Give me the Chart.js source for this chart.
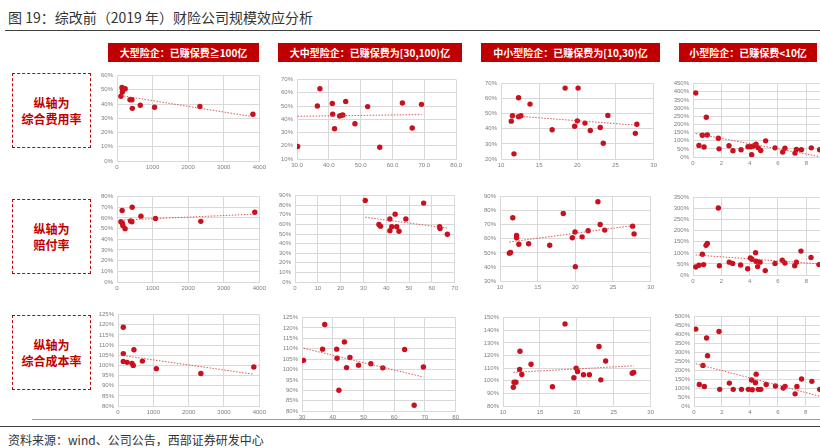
<!DOCTYPE html>
<html>
<head>
<meta charset="utf-8">
<script src="https://cdn.jsdelivr.net/npm/chart.js@4.4.1/dist/chart.umd.min.js"></script>
<style>
  html, body { margin: 0; padding: 0; background: #fff; }
  body { width: 820px; height: 448px; position: relative; overflow: hidden;
         font-family: "Noto Sans CJK SC", "Noto Sans", sans-serif; }
  .title { position: absolute; left: 8px; top: 7px; font-size: 14px; color: #333; white-space: nowrap; }
  .rule { position: absolute; left: 5px; right: 0; top: 30px; height: 1px; background: #404040; }
  .rule2 { position: absolute; left: 32px; right: 0; top: 419px; height: 1px; background: #a0a0a0; }
  .rule3 { position: absolute; left: 0; right: 0; top: 426px; height: 1px; background: #404040; }
  .source { position: absolute; left: 8px; top: 431px; font-size: 12px; color: #333; white-space: nowrap; }
  .head { position: absolute; top: 43px; height: 19px; background: #C00000; color: #fff;
          font-size: 10px; font-weight: bold; line-height: 19px; text-align: center; white-space: nowrap; }
  .side { position: absolute; left: 12px; width: 77px; height: 73px; border: 1.5px dashed #C00000;
          color: #C00000; font-size: 12px; font-weight: 600; line-height: 16px;
          display: flex; flex-direction: column; justify-content: center; align-items: center; }
  .plot { position: absolute; }
</style>
</head>
<body>
<div class="title">图 19：综改前（2019 年）财险公司规模效应分析</div>
<div class="rule"></div>

<div class="head" style="left:108px;width:151px;">大型险企：已赚保费≧100亿</div>
<div class="head" style="left:278px;width:184px;">大中型险企：已赚保费为[30,100)亿</div>
<div class="head" style="left:481px;width:179px;">中小型险企：已赚保费为[10,30)亿</div>
<div class="head" style="left:679px;width:138px;">小型险企：已赚保费&lt;10亿</div>

<div class="side" style="top:73px;"><div>纵轴为</div><div>综合费用率</div></div>
<div class="side" style="top:199px;"><div>纵轴为</div><div>赔付率</div></div>
<div class="side" style="top:315px;"><div>纵轴为</div><div>综合成本率</div></div>

<div class="rule2"></div>
<div class="rule3"></div>
<div class="source">资料来源：wind、公司公告，西部证券研发中心</div>

<script>
// x = 已赚保费(亿元), y = 比率(%)
// 大型险企 (>=100亿)
const bigExpense = [[110,45.5],[140,51.6],[150,48.5],[170,50],[230,50.8],[365,43],[420,43],[430,37],[655,39.2],[1055,37.8],[2330,38.3],[3820,32.8]];
const bigLoss = [[110,56.4],[145,67],[150,55],[165,53],[227,50],[382,57.2],[418,56.5],[427,70],[673,61.7],[1082,59.6],[2355,56.8],[3873,65.3]];
const bigCombined = [[150,118.8],[150,105.8],[150,101.9],[257,101.5],[395,101],[432,100],[451,107.7],[690,102.1],[1085,98.4],[2345,96],[3844,99.2]];

// 大中型险企 [30,100)亿
const midBigExpense = [[30.2,19.5],[36.4,50],[37.2,63.1],[41.1,52],[41.2,43.9],[41.8,32.9],[43.4,42.5],[43.9,43],[44.4,43.2],[45.3,53.5],[48.2,36.6],[52.2,49.6],[56,18.9],[63.1,52.3],[66.2,33.4],[69.1,51.3]];
const midBigLoss = [[30.8,84.9],[36.8,59.9],[37.5,58.2],[41.6,65.6],[41.6,53.5],[42.4,57.5],[43.9,70.7],[44.6,57.5],[45.6,52.8],[48.6,65.6],[56.4,82.2],[63.4,57.5],[63.6,55.8],[66.8,49.7]];
const midBigCombined = [[30.5,104.4],[36.7,109.8],[37.4,121.7],[41.3,109.8],[41.4,105.4],[42,90],[43.8,113.3],[44.5,100.9],[45.6,105.8],[48.4,102.1],[52.4,102.8],[56.3,100.8],[63.4,109.6],[66.5,82.8],[69.5,101.2]];

// 中小型险企 [10,30)亿
const midSmallExpense = [[11.35,45.1],[11.5,48.7],[11.7,23.4],[12.3,60.6],[12.3,48.1],[12.6,48.7],[13.8,56.4],[16.7,39.4],[18.4,67],[19.65,41.7],[20,45.3],[20.1,67],[21,43.8],[21.7,38.9],[23,40.9],[23.4,30.4],[24,48.9],[27.6,37],[27.8,43]];
const midSmallLoss = [[11.24,49.8],[11.4,50.3],[11.7,75],[12.2,62.3],[12.2,60.7],[12.5,56.1],[13.8,56.5],[16.6,55.4],[18.4,78],[19.6,60.7],[19.96,64.8],[20,40.2],[20.9,61.4],[21.7,65.8],[23,86.3],[23.3,70.2],[23.9,66.2],[27.6,69],[27.8,63.5]];
const midSmallCombined = [[11.4,94.9],[11.5,98.8],[11.75,98.8],[12.3,123.3],[12.25,109],[12.55,104.9],[13.8,113.1],[16.7,95.2],[18.4,145],[19.6,102.4],[19.9,110],[20.1,107.3],[20.9,104.8],[21.7,104.8],[23,127.1],[23.25,100.7],[23.9,115.6],[27.5,105.9],[27.7,106.5]];

// 小型险企 <10亿
const smallExpense = [[0.19,392],[0.42,71],[0.66,133],[0.78,61],[0.94,244],[1.01,135],[1.79,115],[1.84,50],[2.54,69],[2.82,38],[3.39,44],[3.88,63],[4.09,63],[4.14,14],[4.28,67],[4.45,79],[4.61,56],[4.78,40],[5.13,99],[5.79,56],[6.33,30],[6.49,54],[7.2,24],[7.3,46],[7.65,44],[8.35,56],[8.94,44]];
const smallLoss = [[0.19,36.5],[0.42,44],[0.66,93.5],[0.75,47],[0.92,134],[1.01,143],[1.79,303],[1.86,42],[2.56,58],[2.8,52.5],[3.36,45],[3.86,28],[4.05,77],[4.16,71],[4.42,101],[4.45,62.5],[4.56,38],[4.73,58],[5.1,20],[5.79,52.5],[6.3,67],[6.49,54],[7.18,42],[7.3,58],[7.62,108],[8.33,79],[8.89,47]];
const smallCombined = [[0.13,430],[0.38,120],[0.64,227],[0.74,109],[0.9,380],[0.97,281],[1.79,417],[1.84,93],[2.53,128],[2.81,93],[3.4,93],[3.89,93],[4.12,145],[4.17,91],[4.4,130],[4.45,178],[4.6,93],[4.78,93],[5.17,120],[5.83,112],[6.39,101],[6.52,110],[7.24,68],[7.37,109],[7.7,151],[8.44,138],[9.0,93]];

// axis ranges: [min, max, step]
const bigX = [0, 4000, 1000];
const midBigX1 = [30, 80, 10];
const midBigX2 = [0, 70, 10];
const midSmallX = [10, 30, 5];
const smallX = [0, 10, 2];

const RED = "#C8101E";
const TREND = "rgba(214, 60, 60, 0.85)";
const GRID = "#d9d9d9";
const TICK = "#7f7f7f";

// Least squares trend line, from min x to max x
function fitLine(pts) {
  const n = pts.length;
  let sx = 0, sy = 0, sxx = 0, sxy = 0;
  pts.forEach(function (p) {
    sx += p[0]; sy += p[1]; sxx += p[0] * p[0]; sxy += p[0] * p[1];
  });
  const k = (n * sxy - sx * sy) / (n * sxx - sx * sx);
  const b = (sy - k * sx) / n;
  const xs = pts.map(function (p) { return p[0]; });
  const x0 = Math.min.apply(null, xs);
  const x1 = Math.max.apply(null, xs);
  return [{ x: x0, y: k * x0 + b }, { x: x1, y: k * x1 + b }];
}

// box = plot area on the page [left, top, right, bottom]
function addScatter(pts, box, xr, yr, xDigits) {
  const padL = 40, padT = 5, padR = 6, padB = 16;
  const wrap = document.createElement("div");
  wrap.className = "plot";
  wrap.style.left = (box[0] - padL) + "px";
  wrap.style.top = (box[1] - padT) + "px";
  wrap.style.width = (box[2] - box[0] + padL + padR) + "px";
  wrap.style.height = (box[3] - box[1] + padT + padB) + "px";
  const canvas = document.createElement("canvas");
  wrap.appendChild(canvas);
  document.body.appendChild(wrap);

  const tickFont = { family: "Liberation Sans, Arial, sans-serif", size: 6 };

  new Chart(canvas, {
    type: "scatter",
    data: {
      datasets: [
        {
          data: pts.map(function (p) { return { x: p[0], y: p[1] }; }),
          backgroundColor: RED,
          borderWidth: 0,
          pointRadius: 2.7,
          pointHoverRadius: 2.7,
          order: 1,
        },
        {
          data: fitLine(pts),
          showLine: true,
          borderColor: TREND,
          borderWidth: 1,
          borderDash: [1.5, 1.5],
          pointRadius: 0,
          order: 0,
        },
      ],
    },
    options: {
      animation: false,
      responsive: true,
      maintainAspectRatio: false,
      layout: { padding: { top: padT, right: padR, left: 0, bottom: 0 } },
      plugins: { legend: { display: false }, tooltip: { enabled: false } },
      scales: {
        x: {
          type: "linear",
          min: xr[0],
          max: xr[1],
          ticks: {
            stepSize: xr[2],
            color: TICK,
            font: tickFont,
            padding: 3,
            maxRotation: 0,
            autoSkip: false,
            callback: function (v) { return Number(v).toFixed(xDigits || 0); },
          },
          grid: { color: GRID, drawTicks: false },
          border: { color: GRID },
          afterFit: function (s) { s.height = padB; },
        },
        y: {
          type: "linear",
          min: yr[0],
          max: yr[1],
          ticks: {
            stepSize: yr[2],
            color: TICK,
            font: tickFont,
            padding: 4,
            autoSkip: false,
            callback: function (v) { return v + "%"; },
          },
          grid: { color: GRID, drawTicks: false },
          border: { color: GRID },
          afterFit: function (s) { s.width = padL; },
        },
      },
    },
  });
}

// row 1: 综合费用率
addScatter(bigExpense, [117, 73, 263, 161], bigX, [0, 60, 10]);
addScatter(midBigExpense, [297, 77, 459, 159], midBigX1, [10, 70, 10], 1);
addScatter(midSmallExpense, [501, 81, 654, 159], midSmallX, [20, 70, 10]);
addScatter(smallExpense, [693, 81, 835, 157], smallX, [0, 450, 50]);
// row 2: 赔付率
addScatter(bigLoss, [117, 194, 263, 282], bigX, [0, 80, 10]);
addScatter(midBigLoss, [295, 193, 455, 282], midBigX2, [0, 90, 10]);
addScatter(midSmallLoss, [500, 194, 651, 281], midSmallX, [30, 90, 10]);
addScatter(smallLoss, [693, 195, 835, 275], smallX, [0, 350, 50]);
// row 3: 综合成本率
addScatter(bigCombined, [118, 312, 263, 406], bigX, [80, 125, 5]);
addScatter(midBigCombined, [302, 315, 456, 411], midBigX1, [80, 125, 5]);
addScatter(midSmallCombined, [503, 315, 651, 406], midSmallX, [80, 150, 10]);
addScatter(smallCombined, [694, 314, 834, 406], smallX, [0, 500, 50]);
</script>
</body>
</html>
